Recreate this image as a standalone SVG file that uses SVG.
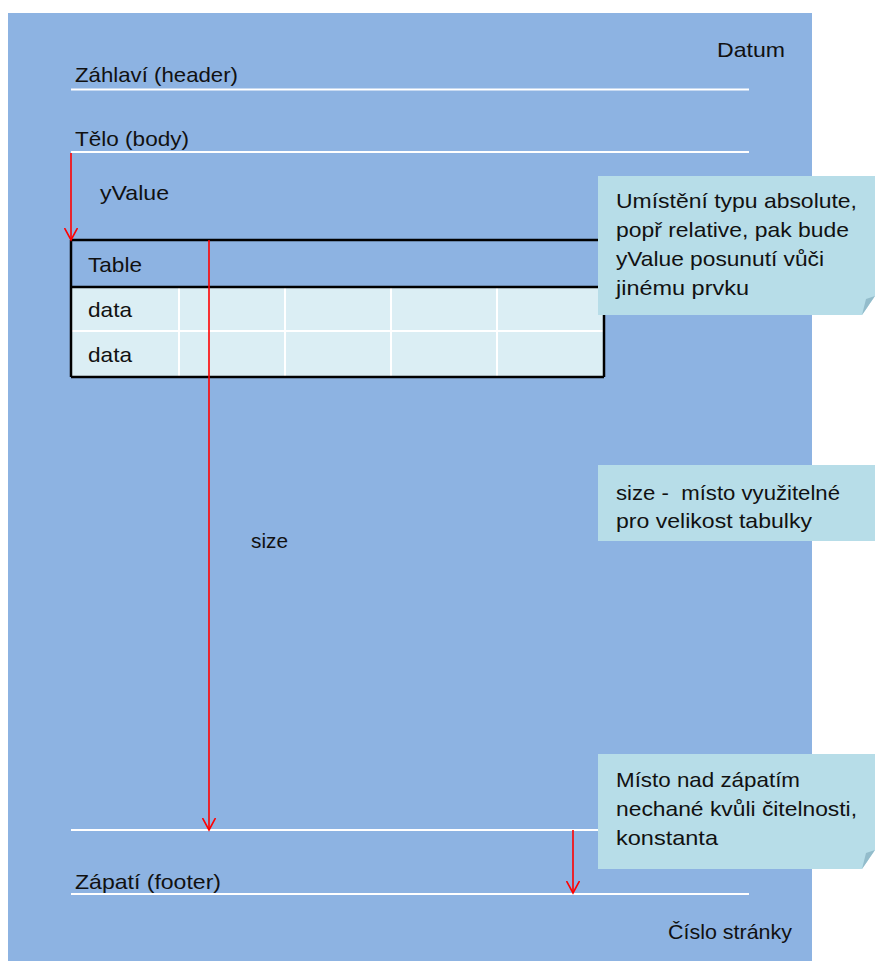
<svg xmlns="http://www.w3.org/2000/svg" width="875" height="961" viewBox="0 0 875 961">
  <style>
    text { font-family: "Liberation Sans", Arial, sans-serif; font-size: 21px; fill: #111; }
    .rule { stroke: #ffffff; stroke-width: 2; }
    .grid { stroke: #ffffff; stroke-width: 2; }
    .border { stroke: #000; stroke-width: 2.5; fill: none; }
    .note { fill: #b7dde8; }
    .fold { fill: #93bccb; }
    .arrow { stroke: #ff0000; stroke-width: 1.6; fill: none; }
  </style>
  <defs>
    <marker id="vhead" markerWidth="14" markerHeight="14" refX="12" refY="7" orient="auto" markerUnits="userSpaceOnUse" viewBox="0 0 14 14">
      <path d="M0,0.5 L12,7 L0,13.5" stroke="#ff0000" stroke-width="1.6" fill="none"/>
    </marker>
  </defs>

  <rect width="875" height="961" fill="#ffffff"/>
  <!-- page -->
  <rect id="page" x="8" y="13" width="804" height="948" fill="#8db3e2"/>

  <!-- section rules -->
  <g id="rules">
    <line class="rule" x1="71" y1="89.5" x2="749" y2="89.5"/>
    <line class="rule" x1="71" y1="152" x2="749" y2="152"/>
    <line class="rule" x1="71" y1="830" x2="749" y2="830"/>
    <line class="rule" x1="71" y1="894" x2="749" y2="894"/>
  </g>

  <g id="labels">
    <text x="717" y="57" textLength="68" lengthAdjust="spacingAndGlyphs">Datum</text>
    <text x="75" y="82" textLength="163" lengthAdjust="spacingAndGlyphs">Záhlaví (header)</text>
    <text x="75" y="146" textLength="114" lengthAdjust="spacingAndGlyphs">Tělo (body)</text>
    <text x="100" y="200" textLength="69" lengthAdjust="spacingAndGlyphs">yValue</text>
    <text x="251" y="548" textLength="37" lengthAdjust="spacingAndGlyphs">size</text>
    <text x="75" y="889" textLength="146" lengthAdjust="spacingAndGlyphs">Zápatí (footer)</text>
    <text x="668" y="939" textLength="124" lengthAdjust="spacingAndGlyphs">Číslo stránky</text>
  </g>

  <!-- table -->
  <g id="table">
    <rect x="71" y="287" width="533" height="90" fill="#dbeef4"/>
    <line class="grid" x1="71" y1="331" x2="604" y2="331"/>
    <line class="grid" x1="179" y1="287" x2="179" y2="377"/>
    <line class="grid" x1="285" y1="287" x2="285" y2="377"/>
    <line class="grid" x1="391" y1="287" x2="391" y2="377"/>
    <line class="grid" x1="497" y1="287" x2="497" y2="377"/>
    <line class="border" x1="71" y1="240" x2="604" y2="240"/>
    <line class="border" x1="71" y1="287" x2="604" y2="287"/>
    <line class="border" x1="71" y1="377" x2="604" y2="377"/>
    <line class="border" x1="71" y1="240" x2="71" y2="377"/>
    <line class="border" x1="604" y1="287" x2="604" y2="377"/>
    <text x="88" y="272" textLength="54" lengthAdjust="spacingAndGlyphs">Table</text>
    <text x="88" y="317" textLength="44" lengthAdjust="spacingAndGlyphs">data</text>
    <text x="88" y="362" textLength="44" lengthAdjust="spacingAndGlyphs">data</text>
  </g>

  <!-- connectors -->
  <g id="connectors">
    <line class="arrow" x1="71" y1="153" x2="71" y2="240" marker-end="url(#vhead)"/>
    <line class="arrow" x1="209" y1="240" x2="209" y2="830" marker-end="url(#vhead)"/>
    <line class="arrow" x1="573" y1="830" x2="573" y2="893" marker-end="url(#vhead)"/>
  </g>

  <!-- notes -->
  <g id="note-position">
    <path class="note" d="M598,176 H875 V296 L862,315 H598 Z"/>
    <path class="fold" d="M862,315 L866,299 L875,296 Z"/>
    <text x="616" y="208" textLength="241" lengthAdjust="spacingAndGlyphs">Umístění typu absolute,</text>
    <text x="616" y="237" textLength="233" lengthAdjust="spacingAndGlyphs">popř relative, pak bude</text>
    <text x="616" y="266" textLength="208" lengthAdjust="spacingAndGlyphs">yValue posunutí vůči</text>
    <text x="616" y="295" textLength="133" lengthAdjust="spacingAndGlyphs">jinému prvku</text>
  </g>
  <g id="note-size">
    <rect class="note" x="598" y="465" width="277" height="76"/>
    <text x="616" y="500" textLength="224" lengthAdjust="spacingAndGlyphs" style="white-space: pre">size -  místo využitelné</text>
    <text x="616" y="528" textLength="196" lengthAdjust="spacingAndGlyphs">pro velikost tabulky</text>
  </g>
  <g id="note-footer-gap">
    <path class="note" d="M598,754 H875 V850 L862,869 H598 Z"/>
    <path class="fold" d="M862,869 L866,853 L875,850 Z"/>
    <text x="616" y="787" textLength="184" lengthAdjust="spacingAndGlyphs">Místo nad zápatím</text>
    <text x="616" y="816" textLength="241" lengthAdjust="spacingAndGlyphs">nechané kvůli čitelnosti,</text>
    <text x="616" y="845" textLength="102" lengthAdjust="spacingAndGlyphs">konstanta</text>
  </g>
</svg>
